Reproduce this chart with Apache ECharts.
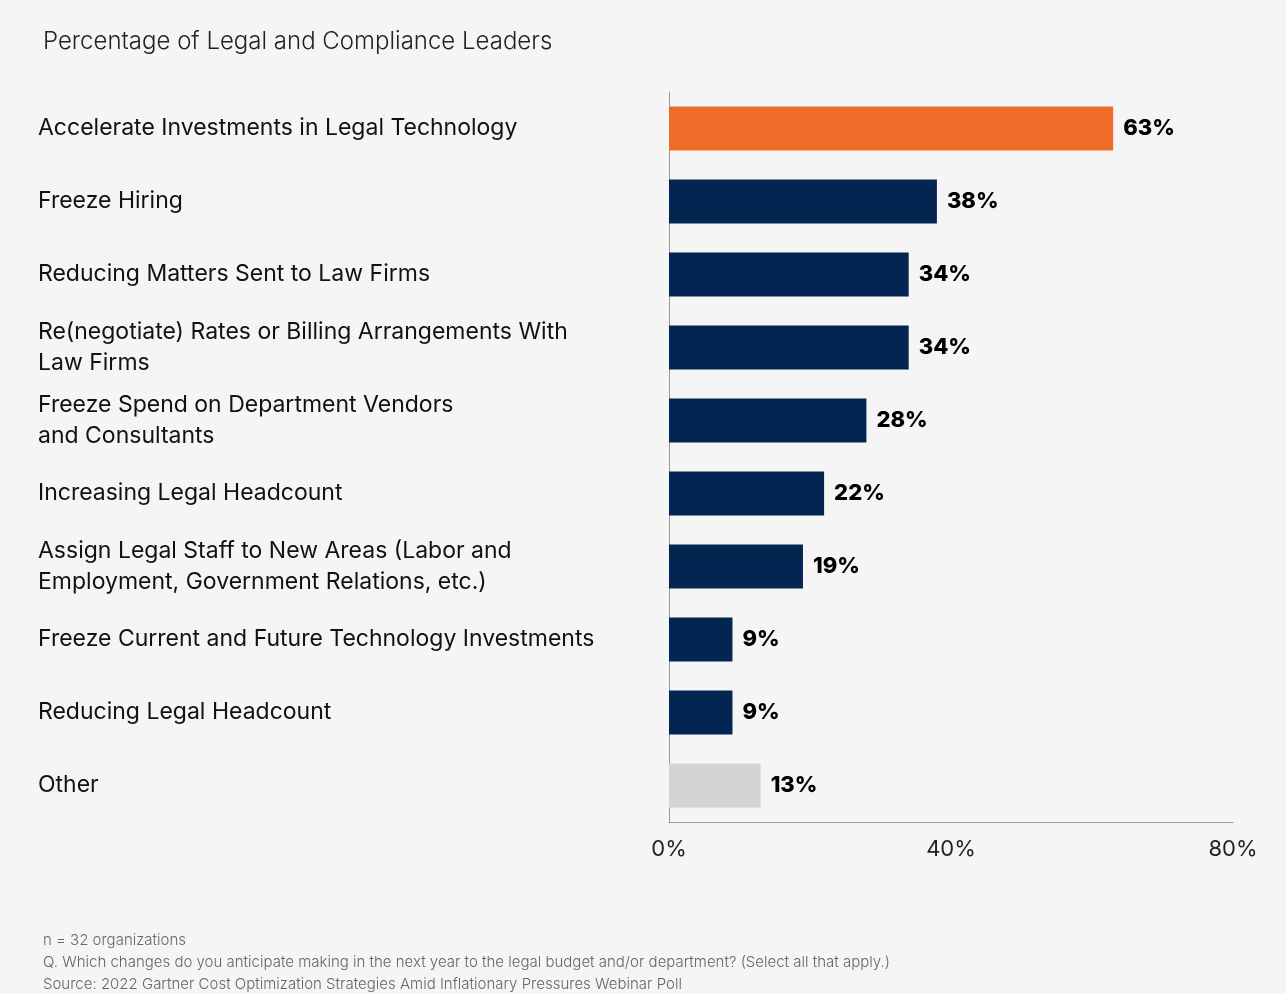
<!DOCTYPE html>
<html><head><meta charset="utf-8">
<script src="https://cdn.jsdelivr.net/npm/echarts@6/dist/echarts.min.js"></script>
<style>html,body{margin:0;background:#f5f5f5}#c{width:1286px;height:994px}</style>
</head><body><div id="c"></div>
<script>
const categories = [
  "Accelerate Investments in Legal Technology",
  "Freeze Hiring",
  "Reducing Matters Sent to Law Firms",
  "Re(negotiate) Rates or Billing Arrangements With\nLaw Firms",
  "Freeze Spend on Department Vendors\nand Consultants",
  "Increasing Legal Headcount",
  "Assign Legal Staff to New Areas (Labor and\nEmployment, Government Relations, etc.)",
  "Freeze Current and Future Technology Investments",
  "Reducing Legal Headcount",
  "Other"
];
const values = [63, 38, 34, 34, 28, 22, 19, 9, 9, 13];
const colors = ["#f06b2a","#022552","#022552","#022552","#022552","#022552","#022552","#022552","#022552","#d4d4d4"];
const tickLabels = ["0%","40%","80%"];
const chart = echarts.init(document.getElementById('c'));
chart.setOption({
  backgroundColor:'#f5f5f5',
  title:[
    {text:'Percentage of Legal and Compliance Leaders',left:38,top:25,textStyle:{fontFamily:'Inter',fontWeight:300,fontSize:24,color:'#222'}},
    {text:'n = 32 organizations\nQ. Which changes do you anticipate making in the next year to the legal budget and/or department? (Select all that apply.)\nSource: 2022 Gartner Cost Optimization Strategies Amid Inflationary Pressures Webinar Poll',
     left:38,top:924,textStyle:{fontFamily:'Inter',fontWeight:300,fontSize:15,lineHeight:22,color:'#666'}}
  ],
  grid:{left:669,right:53,top:92,bottom:172},
  xAxis:{type:'value',min:0,max:80,interval:40,
    axisLine:{show:true,lineStyle:{color:'#999'}},axisTick:{show:false},splitLine:{show:false},
    axisLabel:{formatter:v=>v+'%',fontFamily:'Inter',fontSize:22,color:'#222',margin:16}},
  yAxis:{type:'category',inverse:true,data:categories,
    axisLine:{show:true,lineStyle:{color:'#999'}},axisTick:{show:false},
    axisLabel:{align:'left',margin:631,fontFamily:'Inter',fontSize:23,lineHeight:31,color:'#111'}},
  series:[{type:'bar',barWidth:44,
    data:values.map((v,i)=>({value:v,itemStyle:{color:colors[i]}})),
    label:{show:true,position:'right',distance:10,formatter:'{c}%',fontFamily:'Inter',fontWeight:800,fontSize:22,color:'#000'}}]
});
</script></body></html>
